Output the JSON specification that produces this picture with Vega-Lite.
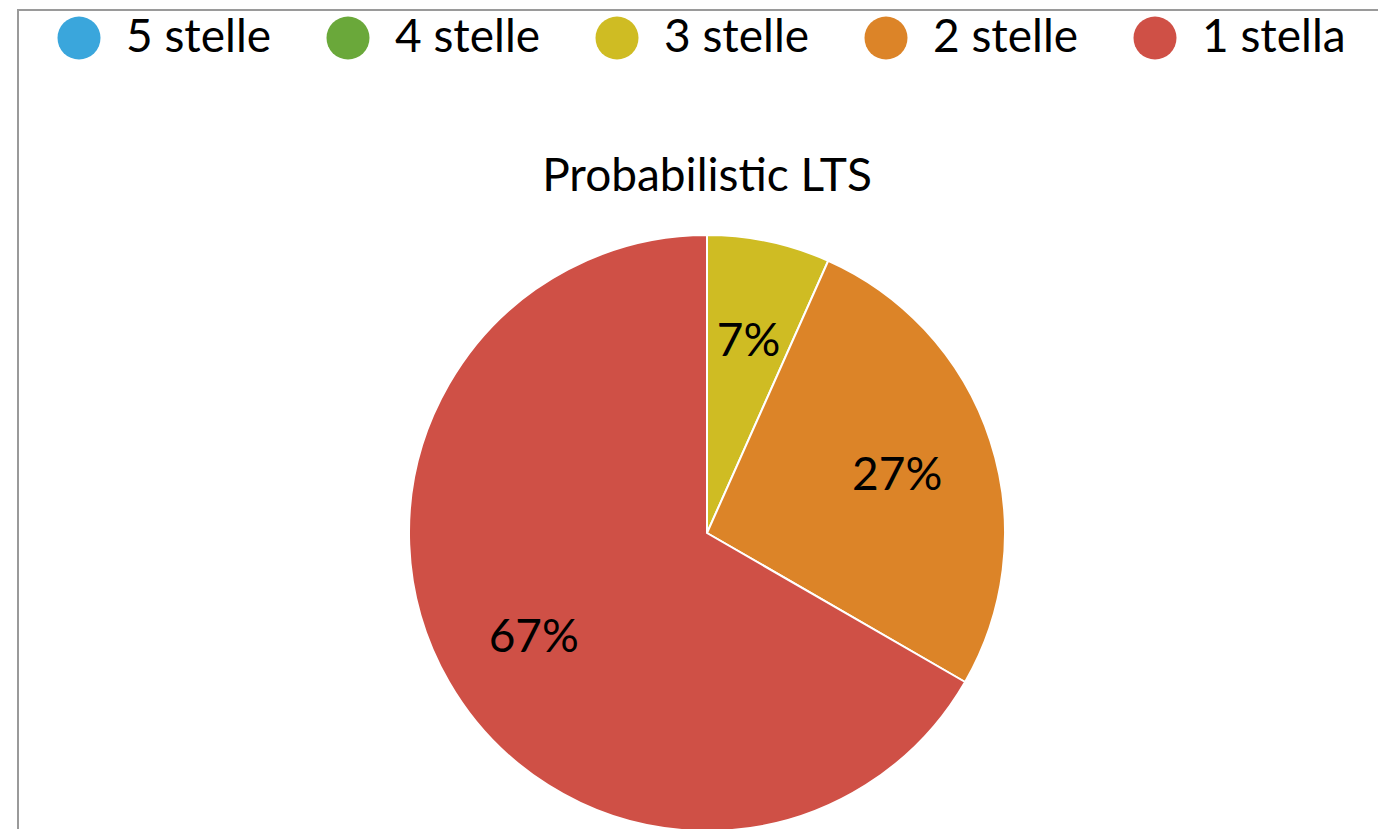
{
  "$schema": "https://vega.github.io/schema/vega-lite/v6.json",
  "autosize": {"type": "none"},
  "padding": {"left": 18, "top": 10, "right": -18, "bottom": -227},
  "width": 1378,
  "height": 1046,
  "background": "white",
  "view": {"stroke": "#9a9a9a", "strokeWidth": 2, "fill": "white"},
  "config": {
    "font": "Lato"
  },
  "title": {
    "text": "Probabilistic LTS",
    "fontSize": 46,
    "fontWeight": "normal",
    "font": "Lato",
    "color": "black",
    "anchor": "middle",
    "orient": "top",
    "baseline": "alphabetic",
    "offset": -227
  },
  "data": {
    "values": [
      {"categoria": "5 stelle", "valore": 0, "etichetta": "", "ordine": 1},
      {"categoria": "4 stelle", "valore": 0, "etichetta": "", "ordine": 2},
      {"categoria": "3 stelle", "valore": 1, "etichetta": "7%", "ordine": 3},
      {"categoria": "2 stelle", "valore": 4, "etichetta": "27%", "ordine": 4},
      {"categoria": "1 stella", "valore": 10, "etichetta": "67%", "ordine": 5}
    ]
  },
  "encoding": {
    "theta": {"field": "valore", "type": "quantitative", "stack": true},
    "order": {"field": "ordine", "type": "quantitative", "sort": "ascending"},
    "color": {
      "field": "categoria",
      "type": "nominal",
      "scale": {
        "domain": ["5 stelle", "4 stelle", "3 stelle", "2 stelle", "1 stella"],
        "range": ["#3aa6dc", "#6aa83a", "#cfbc23", "#dc8428", "#cf5046"]
      },
      "legend": {
        "title": null,
        "orient": "none",
        "legendX": 38,
        "legendY": 5,
        "direction": "horizontal",
        "columns": 5,
        "columnPadding": 53,
        "padding": 0,
        "symbolType": "circle",
        "symbolSize": 1849,
        "symbolStrokeWidth": 0,
        "symbolOpacity": 1,
        "labelFontSize": 46,
        "labelFont": "Lato",
        "labelColor": "black",
        "labelOffset": 24,
        "labelLimit": 400
      }
    }
  },
  "layer": [
    {
      "mark": {"type": "arc", "radius": 298, "stroke": "white", "strokeWidth": 2}
    },
    {
      "mark": {"type": "text", "radius": 200, "fontSize": 46, "font": "Lato", "color": "black", "baseline": "middle", "align": "center", "dy": 5},
      "encoding": {
        "text": {"field": "etichetta", "type": "nominal"},
        "color": {"value": "black"}
      }
    }
  ]
}
